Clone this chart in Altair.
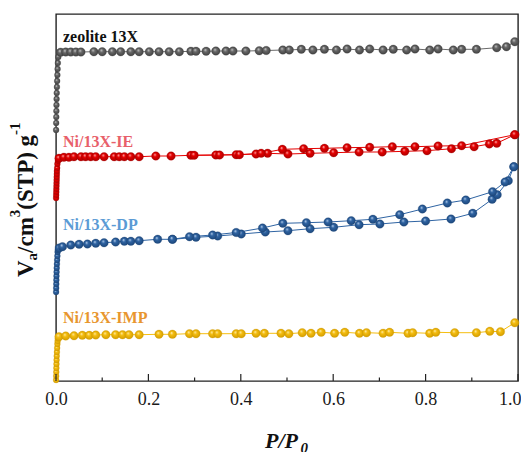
import altair as alt
import pandas as pd

# ---------------- data (relative P/P0, offset adsorbed volume, arbitrary units) -------------
zeo_P = [0.0002, 0.0004, 0.0006, 0.0008, 0.001, 0.0013, 0.0016, 0.002, 0.0025, 0.003, 0.0035, 0.004, 0.005,
         0.010, 0.021, 0.032, 0.043, 0.054, 0.082, 0.100, 0.122, 0.140, 0.162, 0.180, 0.202, 0.223, 0.245,
         0.267, 0.292, 0.303, 0.325, 0.346, 0.368, 0.383, 0.411, 0.440, 0.455, 0.491, 0.505, 0.531, 0.556,
         0.581, 0.607, 0.630, 0.657, 0.679, 0.708, 0.730, 0.759, 0.777, 0.809, 0.827, 0.860, 0.878, 0.910,
         0.954, 0.975, 0.993]
zeo_V = [251, 258, 264, 270, 276, 282, 288, 294, 300, 306, 312, 318, 324,
         328.7, 329, 329, 329, 329, 329.3, 329.3, 329.3, 329.3, 329.3, 329.3, 329.3, 329.3, 329.3,
         329.3, 329.7, 329.7, 329.7, 330, 330, 330, 330, 330.3, 330.5, 331, 331, 331.7, 331,
         331.7, 331, 332, 331, 332, 331, 331.7, 331, 332, 331, 332, 331, 331.7, 331.7,
         333.3, 334.3, 339.3]

ie_ads_P = [0.0002, 0.0004, 0.0006, 0.0008, 0.001, 0.0012, 0.0014, 0.0016, 0.0018, 0.002, 0.0025, 0.003, 0.004,
            0.0065, 0.017, 0.028, 0.039, 0.054, 0.064, 0.075, 0.086, 0.104, 0.126, 0.137, 0.148, 0.162, 0.180,
            0.216, 0.249, 0.292, 0.346, 0.390, 0.433, 0.458, 0.502, 0.550, 0.601, 0.656, 0.706, 0.755, 0.803,
            0.856, 0.905, 0.938, 0.954, 0.993]
ie_ads_V = [183, 186, 189, 192, 195, 198, 201, 204, 207, 210, 213, 217, 220,
            222.7, 223.7, 223.7, 224.3, 224.3, 224.3, 224.3, 224.3, 224.3, 224.3, 224.3, 224.3, 224.3, 224.3,
            225, 225, 225.7, 226, 226.3, 227, 227.7, 227, 227.7, 228.3, 229, 229, 229.7, 230.3,
            232.3, 234.3, 237, 237.7, 246.3]
ie_des_P = [0.993, 0.878, 0.827, 0.777, 0.728, 0.679, 0.630, 0.581, 0.536, 0.490, 0.444, 0.397, 0.354, 0.299]
ie_des_V = [246.3, 235.3, 235, 234.3, 234.3, 233.7, 233.3, 232.7, 232.3, 231.7, 227.7, 226.3, 226, 225.7]

dp_ads_P = [0.0002, 0.0004, 0.0006, 0.0008, 0.001, 0.0013, 0.0016, 0.002, 0.0025, 0.003, 0.0035, 0.004,
            0.007, 0.014, 0.032, 0.050, 0.068, 0.086, 0.104, 0.129, 0.148, 0.162, 0.180, 0.220, 0.252, 0.303,
            0.350, 0.401, 0.453, 0.502, 0.550, 0.601, 0.656, 0.701, 0.753, 0.800, 0.855, 0.902, 0.944, 0.955,
            0.979, 0.991]
dp_ads_V = [89, 93, 97, 101, 105, 109, 113, 117, 121, 125, 129, 131,
            133, 134.3, 136, 136.7, 137, 137.7, 138.3, 139, 139.7, 139.7, 140.3, 141.7, 141.7, 143.7,
            145, 147, 149, 150.3, 152.3, 153.7, 156.3, 157, 159, 160, 162, 167.7, 181.7, 186.3,
            200.3, 214.3]
dp_des_P = [0.991, 0.972, 0.945, 0.887, 0.847, 0.793, 0.744, 0.686, 0.639, 0.589, 0.542, 0.491, 0.447,
            0.390, 0.339, 0.289, 0.252]
dp_des_V = [214.3, 199, 189.3, 181, 178, 172, 166.3, 161.7, 160.3, 159, 158.3, 157.7, 153,
            148.5, 146, 144.3, 141.7]

imp_P = [0.0002, 0.0004, 0.0006, 0.0008, 0.001, 0.0013, 0.0016, 0.002, 0.0025, 0.003, 0.0035, 0.004,
         0.0065, 0.021, 0.039, 0.057, 0.072, 0.086, 0.108, 0.129, 0.144, 0.158, 0.180, 0.223, 0.252, 0.289,
         0.303, 0.339, 0.350, 0.390, 0.401, 0.433, 0.451, 0.487, 0.504, 0.533, 0.552, 0.574, 0.603, 0.625,
         0.657, 0.672, 0.708, 0.722, 0.762, 0.772, 0.809, 0.822, 0.863, 0.910, 0.939, 0.962, 0.993]
imp_V = [1, 5, 9, 13, 17, 21, 25, 29, 33, 37, 40, 42.5,
         44.3, 45, 45.3, 45.7, 45.7, 46, 46.3, 46.3, 46.3, 46.3, 46.3, 46.7, 46.7, 47.3,
         47.3, 47.3, 47.3, 47.3, 47.3, 47.7, 47.7, 47.7, 47.3, 48.3, 47.7, 48.7, 47.7, 48.7,
         47.7, 48.3, 47.7, 48.7, 47.7, 48.3, 47.7, 48.7, 48.3, 48.3, 49.7, 49.3, 58.3]

series_names = ["zeolite 13X", "Ni/13X-IE", "Ni/13X-DP", "Ni/13X-IMP"]
major_ticks = [0.0, 0.2, 0.4, 0.6, 0.8, 1.0]
minor_ticks = [0.1, 0.3, 0.5, 0.7, 0.9]

# ---------------- build tables -------------
def branch(name, P, V, b):
    return pd.DataFrame({"series": name, "P": P, "V": V, "branch": b, "idx": list(range(len(P)))})

tables = {
    "zeolite 13X": branch("zeolite 13X", zeo_P, zeo_V, "ads"),
    "Ni/13X-IE": pd.concat([branch("Ni/13X-IE", ie_ads_P, ie_ads_V, "ads"),
                            branch("Ni/13X-IE", ie_des_P, ie_des_V, "des")]),
    "Ni/13X-DP": pd.concat([branch("Ni/13X-DP", dp_ads_P, dp_ads_V, "ads"),
                            branch("Ni/13X-DP", dp_des_P, dp_des_V, "des")]),
    "Ni/13X-IMP": branch("Ni/13X-IMP", imp_P, imp_V, "ads"),
}

styles = {
    "zeolite 13X": ("#6a6a6a", "#3e3e3e", "#d8d8d8"),
    "Ni/13X-IE": ("#e60000", "#a80000", "#ffc8c8"),
    "Ni/13X-DP": ("#2f64a3", "#1b4477", "#c8dcf4"),
    "Ni/13X-IMP": ("#f5be10", "#d09a00", "#fff2c0"),
}
label_colors = {
    "zeolite 13X": "#111111",
    "Ni/13X-IE": "#e8606a",
    "Ni/13X-DP": "#5b9bd5",
    "Ni/13X-IMP": "#e8962e",
}

SERIF = "Liberation Serif, Times New Roman, Tinos, DejaVu Serif, serif"

x_scale = alt.Scale(domain=[0, 1], nice=False, zero=False)
y_scale = alt.Scale(domain=[0, 367], nice=False, zero=False)
x_axis = alt.Axis(values=major_ticks, format=".1f", title=None, grid=False, domain=False,
                  ticks=False, tickSize=0, labelFont=SERIF, labelFontSize=18, labelColor="#1a1a1a",
                  labelPadding=9, labelFlush=False,
                  labelAlign={"condition": {"test": "datum.value >= 1", "value": "right"}, "value": "center"},
                  labelOffset={"condition": {"test": "datum.value >= 1", "value": 3}, "value": 0})
X = alt.X("P:Q", scale=x_scale, axis=x_axis)
Y = alt.Y("V:Q", scale=y_scale, axis=None)

layers = []
for name in series_names:
    df = tables[name]
    base, dark, light = styles[name]
    grad = {"gradient": "radial", "x1": 0.38, "y1": 0.32, "r1": 0.0,
            "x2": 0.5, "y2": 0.5, "r2": 0.55,
            "stops": [{"offset": 0.0, "color": light},
                      {"offset": 0.35, "color": base},
                      {"offset": 1.0, "color": dark}]}
    line = alt.Chart(df).mark_line(color=base, strokeWidth=1).encode(
        x=X, y=Y, detail="branch:N", order="idx:Q")
    pts = alt.Chart(df).mark_circle(fill=grad, opacity=1, stroke=dark, strokeWidth=0.3).encode(
        x=X, y=Y,
        size=alt.condition("datum.P < 0.006", alt.value(34), alt.value(72)))
    layers += [line, pts]

# inward ticks on the bottom axis
tick_major = alt.Chart(pd.DataFrame({"P": major_ticks})).mark_rule(color="#222", strokeWidth=1.2).encode(
    x=X, y=alt.value(367), y2=alt.value(360))
tick_minor = alt.Chart(pd.DataFrame({"P": minor_ticks})).mark_rule(color="#222", strokeWidth=1.2).encode(
    x=X, y=alt.value(367), y2=alt.value(363.5))
layers += [tick_major, tick_minor]

# series labels
label_y = {"zeolite 13X": 27.7, "Ni/13X-IE": 132.7, "Ni/13X-DP": 216, "Ni/13X-IMP": 309}
for name in series_names:
    layers.append(alt.Chart(alt.Data(values=[{}])).mark_text(
        font=SERIF, fontWeight="bold", fontSize=16, align="left", baseline="alphabetic",
        color=label_colors[name]).encode(
        x=alt.value(7), y=alt.value(label_y[name]), text=alt.value(name)))

# axis titles composed of pieces (sub/superscripts)
def piece(txt, x, y, size, angle=0, style="normal"):
    return alt.Chart(alt.Data(values=[{}])).mark_text(
        font=SERIF, fontWeight="bold", fontStyle=style, fontSize=size, align="left",
        baseline="alphabetic", angle=angle, color="#111").encode(
        x=alt.value(x), y=alt.value(y), text=alt.value(txt))

main, small = 23, 15
yb, ysub, ysup = -23, -19, -36
y0 = 263
w_V = 0.722 * main
w_a = 0.5 * small
w_cm = 1.555 * main
w_3 = 0.5 * small
w_stp = 3.25 * main
layers += [
    piece("V", yb, y0, main, 270),
    piece("a", ysub, y0 - w_V, small, 270),
    piece("/cm", yb, y0 - w_V - w_a, main, 270),
    piece("3", ysup, y0 - w_V - w_a - w_cm, small, 270),
    piece("(STP) g", yb, y0 - w_V - w_a - w_cm - w_3, main, 270),
    piece("-1", ysup, y0 - w_V - w_a - w_cm - w_3 - w_stp, small, 270),
]
xt = 209
layers += [
    piece("P/P", xt, 434, 22, 0, "italic"),
    piece("0", xt + 1.612 * 22, 439, 15, 0, "italic"),
]

chart = alt.layer(*layers).properties(
    width=462, height=367,
    autosize="none",
    padding={"left": 48, "top": 6, "right": 3, "bottom": 71},
).configure_view(stroke="#222", strokeWidth=1.4)

chart.save("out.html", embed_options={"renderer": "svg", "actions": False})
